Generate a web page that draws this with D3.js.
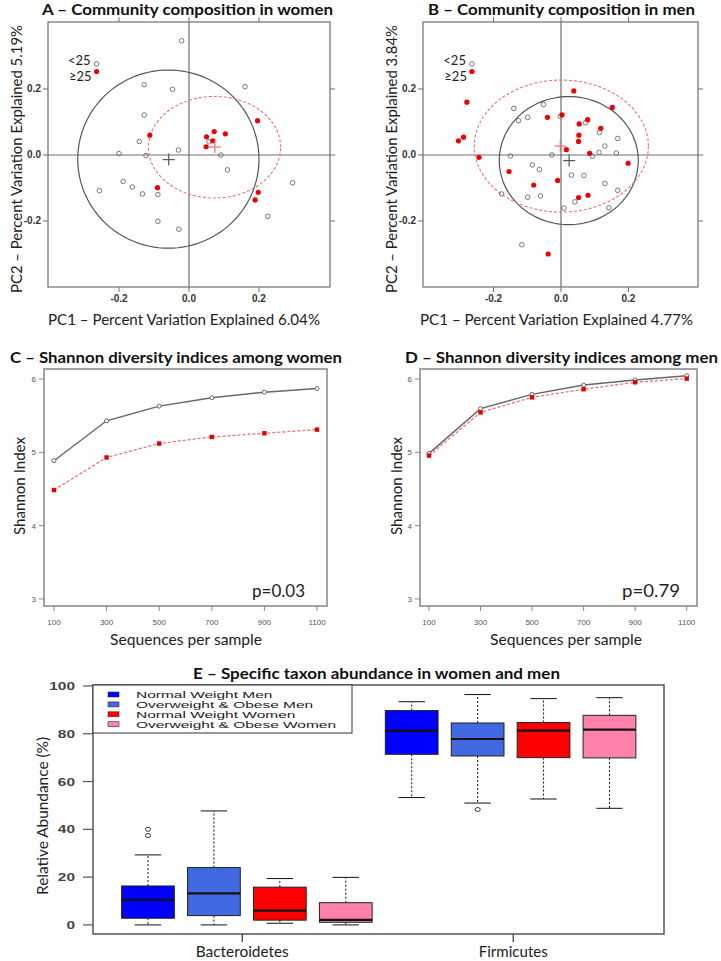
<!DOCTYPE html>
<html><head><meta charset="utf-8">
<script src="https://cdn.jsdelivr.net/npm/d3@7"></script>
<style>body{margin:0;background:#fff}</style>
</head><body>
<svg id="c" width="721" height="961" xmlns="http://www.w3.org/2000/svg"></svg>
<script>
// ---------- DATA ----------
// Panel A: women (PC1, PC2)
const womenNormalPts = [[-0.021,0.346],[-0.128,0.213],[-0.047,0.199],[0.160,0.207],[-0.128,0.121],[-0.142,0.041],[-0.030,0.015],[-0.200,0.004],[-0.123,-0.002],[0.057,0.040],[0.091,0.0],[0.110,-0.045],[0.296,-0.084],[-0.256,-0.108],[-0.188,-0.080],[-0.162,-0.097],[-0.133,-0.118],[-0.089,-0.120],[-0.089,-0.201],[-0.029,-0.225],[0.225,-0.186]];
const womenOverPts = [[-0.112,0.060],[0.050,0.055],[0.072,0.071],[0.104,0.064],[0.068,0.043],[0.049,0.025],[0.196,0.104],[-0.090,-0.099],[0.198,-0.113],[0.189,-0.136]];
const womenCentroids = [[-0.058,-0.014],[0.074,0.024]];          // normal, overweight
const womenEllipses = [[-0.059,-0.0125,0.259,0.270],[0.073,0.0235,0.189,0.154]]; // cx, cy, rx, ry
// Panel B: men
const menNormalPts = [[-0.140,0.141],[-0.052,0.153],[-0.126,0.104],[-0.099,0.114],[-0.002,0.117],[0.073,0.098],[0.114,0.068],[0.168,0.050],[0.130,0.027],[0.113,0.008],[0.164,0.006],[0.093,-0.004],[-0.027,0.0],[-0.150,-0.003],[-0.085,-0.030],[-0.064,-0.044],[0.031,-0.061],[0.068,-0.062],[0.130,-0.086],[0.168,-0.107],[-0.176,-0.118],[-0.099,-0.128],[-0.061,-0.124],[0.041,-0.142],[0.009,-0.161],[0.142,-0.160],[-0.116,-0.272]];
const menOverPts = [[-0.279,0.160],[-0.304,0.043],[-0.289,0.054],[-0.243,-0.007],[-0.154,-0.050],[-0.081,-0.091],[-0.040,0.114],[0.003,0.122],[0.038,0.194],[0.054,0.094],[0.079,0.107],[0.053,0.060],[0.052,0.041],[0.016,0.016],[0.118,0.081],[0.152,0.144],[0.085,0.005],[0.199,-0.025],[-0.010,-0.077],[0.052,-0.129],[0.080,-0.122],[-0.038,-0.300]];
const menCentroids = [[0.024,-0.017],[-0.002,0.027]];
const menEllipses = [[0.023,-0.017,0.206,0.194],[0.001,0.027,0.258,0.200]];
const pcaTicks = [-0.2, 0.0, 0.2];
const legendLabels = ["<25", "\u226525"];
const legendPos = [[-0.264,0.276],[-0.264,0.253]];

// Panels C, D: Shannon
const depths = [100,300,500,700,900,1100];
const womenNormalShannon = [4.886,5.43,5.63,5.745,5.82,5.87];
const womenOverShannon   = [4.486,4.93,5.12,5.21,5.26,5.31];
const menNormalShannon   = [4.986,5.595,5.79,5.918,5.986,6.045];
const menOverShannon     = [4.955,5.545,5.75,5.86,5.955,6.005];
const shannonTicks = [3,4,5,6];

// Panel E: boxplots [lowWhisker, Q1, median, Q3, highWhisker]
const taxa = ["Bacteroidetes","Firmicutes"];
const taxaPos = [2.43, 6.54];
const groups = ["Normal Weight Men","Overweight & Obese Men","Normal Weight Women","Overweight & Obese Women"];
const groupColors = ["#0000ff","#4169e1","#ff0000","#ff82ab"];
const bacteroidetesStats = [[0,2.8,10.5,16.3,29.3],[0,3.9,13.2,24.0,47.7],[0.7,2.0,6.0,15.8,19.4],[0,1.1,2.1,9.3,19.9]];
const firmicutesStats = [[53.3,71.4,81.2,89.7,93.4],[51.0,70.7,77.8,84.5,96.4],[52.7,70.0,81.3,84.7,94.7],[48.8,69.9,81.7,87.7,95.1]];
const outliers = [[1,40.0],[1,37.4],[6,48.3]]; // [box position, value]
const abundTicks = [0,20,40,60,80,100];

// ---------- DRAW ----------
const svg = d3.select("#c");
const calibri = "Lato, 'Open Sans', sans-serif";
const arial = "'Liberation Sans', Arial, sans-serif";

function txt(g, x, y, s, o={}) {
  const t = g.append("text").attr("x", x).attr("y", y).text(s)
    .attr("font-family", o.family || calibri)
    .attr("font-size", o.size || 15)
    .attr("font-weight", o.weight || "normal")
    .attr("fill", o.fill || "#111")
    .attr("text-anchor", o.anchor || "middle");
  if (o.len) t.attr("textLength", o.len).attr("lengthAdjust", "spacingAndGlyphs");
  if (o.rot) t.attr("transform", `rotate(-90,${x},${y})`);
  return t;
}

function pcaPanel(cfg) {
  const g = svg.append("g");
  const x = d3.scaleLinear().domain(cfg.xd).range(cfg.xr);
  const y = d3.scaleLinear().domain(cfg.yd).range([287, 22]);
  const [x0, x1] = cfg.xr, y0 = 22, y1 = 287;
  const gray = "#6e6e6e";
  g.append("rect").attr("x", x0).attr("y", y0).attr("width", x1 - x0).attr("height", y1 - y0)
    .attr("fill", "none").attr("stroke", gray).attr("stroke-width", 1.2);
  g.append("line").attr("x1", x(0)).attr("x2", x(0)).attr("y1", y0).attr("y2", y1).attr("stroke", gray).attr("stroke-width", 1.2);
  g.append("line").attr("x1", x0).attr("x2", x1).attr("y1", y(0)).attr("y2", y(0)).attr("stroke", gray).attr("stroke-width", 1.2);
  pcaTicks.forEach(v => {
    g.append("line").attr("x1", x(v)).attr("x2", x(v)).attr("y1", y1).attr("y2", y1 + 5).attr("stroke", gray);
    g.append("line").attr("x1", x(v)).attr("x2", x(v)).attr("y1", y0).attr("y2", y0 - 5).attr("stroke", gray);
    g.append("line").attr("y1", y(v)).attr("y2", y(v)).attr("x1", x0).attr("x2", x0 - 5).attr("stroke", gray);
    g.append("line").attr("y1", y(v)).attr("y2", y(v)).attr("x1", x1).attr("x2", x1 + 5).attr("stroke", gray);
    txt(g, x(v), 302, d3.format(".1f")(v).replace("\u2212", "-"), {family: arial, size: 10, weight: "bold", fill: "#333"});
    txt(g, x0 - 7, y(v) + 3.5, d3.format(".1f")(v).replace("\u2212", "-"), {family: arial, size: 10, weight: "bold", fill: "#333", anchor: "end"});
  });
  const ell = (e) => d3.range(0, 361, 3).map(a => [e[0] + e[2] * Math.cos(a * Math.PI / 180), e[1] + e[3] * Math.sin(a * Math.PI / 180)]);
  const line = d3.line().x(d => x(d[0])).y(d => y(d[1]));
  g.append("path").attr("d", line(ell(cfg.ellipses[0]))).attr("fill", "none").attr("stroke", "#555").attr("stroke-width", 1.2);
  g.append("path").attr("d", line(ell(cfg.ellipses[1]))).attr("fill", "none").attr("stroke", "#f07070").attr("stroke-width", 1.1).attr("stroke-dasharray", "3,2");
  g.selectAll(null).data(cfg.normal).enter().append("circle")
    .attr("cx", d => x(d[0])).attr("cy", d => y(d[1])).attr("r", 2.3)
    .attr("fill", "none").attr("stroke", "#777").attr("stroke-width", 1);
  g.selectAll(null).data(cfg.over).enter().append("circle")
    .attr("cx", d => x(d[0])).attr("cy", d => y(d[1])).attr("r", 2.6)
    .attr("fill", "#ee0000");
  cfg.centroids.forEach((c, i) => {
    const col = i === 0 ? "#555" : "#f07070";
    g.append("line").attr("x1", x(c[0]) - 6).attr("x2", x(c[0]) + 6).attr("y1", y(c[1])).attr("y2", y(c[1])).attr("stroke", col).attr("stroke-width", 1.2);
    g.append("line").attr("x1", x(c[0])).attr("x2", x(c[0])).attr("y1", y(c[1]) - 6).attr("y2", y(c[1]) + 6).attr("stroke", col).attr("stroke-width", 1.2);
  });
  g.append("circle").attr("cx", x(legendPos[0][0])).attr("cy", y(legendPos[0][1])).attr("r", 2.3).attr("fill", "none").attr("stroke", "#777");
  g.append("circle").attr("cx", x(legendPos[1][0])).attr("cy", y(legendPos[1][1])).attr("r", 2.6).attr("fill", "#ee0000");
  txt(g, x(legendPos[0][0]) - 6, y(legendPos[0][1]) + 1, legendLabels[0], {size: 13, anchor: "end", fill: "#222"});
  txt(g, x(legendPos[1][0]) - 5, y(legendPos[1][1]) + 9, legendLabels[1], {size: 13, anchor: "end", fill: "#222"});
  txt(g, cfg.titleX, 15, cfg.title, {size: 16, weight: "bold", len: cfg.titleLen});
  txt(g, cfg.ylabX, 159, cfg.ylab, {size: 15, rot: true, len: 268, fill: "#222"});
  txt(g, cfg.xlabX, 325, cfg.xlab, {size: 15, len: cfg.xlabLen, fill: "#222"});
}

pcaPanel({xd: [-0.403, 0.403], xr: [48, 330], yd: [-0.4, 0.403],
  ellipses: womenEllipses, normal: womenNormalPts, over: womenOverPts, centroids: womenCentroids,
  title: "A \u2013 Community composition in women", titleX: 187.5, titleLen: 291,
  ylab: "PC2 \u2013 Percent Variation Explained 5.19%", ylabX: 22,
  xlab: "PC1 \u2013 Percent Variation Explained 6.04%", xlabX: 184, xlabLen: 272});
pcaPanel({xd: [-0.409, 0.406], xr: [423, 698], yd: [-0.4, 0.403],
  ellipses: menEllipses, normal: menNormalPts, over: menOverPts, centroids: menCentroids,
  title: "B \u2013 Community composition in men", titleX: 561.5, titleLen: 267,
  ylab: "PC2 \u2013 Percent Variation Explained 3.84%", ylabX: 397,
  xlab: "PC1 \u2013 Percent Variation Explained 4.77%", xlabX: 556.5, xlabLen: 273});

function shannonPanel(cfg) {
  const g = svg.append("g");
  const x = d3.scaleLinear().domain([100, 1100]).range(cfg.xr);
  const y = d3.scaleLinear().domain([3, 6]).range([599, 379]);
  const [b0, b1] = cfg.box, t0 = 369, t1 = 606;
  g.append("rect").attr("x", b0).attr("y", t0).attr("width", b1 - b0).attr("height", t1 - t0)
    .attr("fill", "none").attr("stroke", "#999").attr("stroke-width", 1.8);
  shannonTicks.forEach(v => {
    g.append("line").attr("x1", b0).attr("x2", b0 - 5).attr("y1", y(v)).attr("y2", y(v)).attr("stroke", "#888");
    txt(g, b0 - 8, y(v) + 3, v, {family: arial, size: 8, fill: "#555", anchor: "end"});
  });
  depths.forEach(v => {
    g.append("line").attr("x1", x(v)).attr("x2", x(v)).attr("y1", t1).attr("y2", t1 + 5).attr("stroke", "#888");
    txt(g, x(v), 625, v, {family: arial, size: 8, fill: "#555"});
  });
  const line = d3.line().x((d, i) => x(depths[i])).y(d => y(d));
  g.append("path").attr("d", line(cfg.normal)).attr("fill", "none").attr("stroke", "#666").attr("stroke-width", 1.4);
  g.append("path").attr("d", line(cfg.over)).attr("fill", "none").attr("stroke", "#f27070").attr("stroke-width", 1.3).attr("stroke-dasharray", "3,2");
  g.selectAll(null).data(cfg.normal).enter().append("circle")
    .attr("cx", (d, i) => x(depths[i])).attr("cy", d => y(d)).attr("r", 2)
    .attr("fill", "#fff").attr("stroke", "#666").attr("stroke-width", 1);
  g.selectAll(null).data(cfg.over).enter().append("rect")
    .attr("x", (d, i) => x(depths[i]) - 2.2).attr("y", d => y(d) - 2.2).attr("width", 4.4).attr("height", 4.4)
    .attr("fill", "#e00000");
  txt(g, cfg.titleX, 363, cfg.title, {size: 16, weight: "bold", len: cfg.titleLen});
  txt(g, cfg.ylabX, 486, "Shannon Index", {size: 15, rot: true, len: 98, fill: "#222"});
  txt(g, cfg.pX, 597, cfg.p, {size: 18, len: cfg.pLen, fill: "#222"});
  txt(g, cfg.xlabX, 645, "Sequences per sample", {size: 15, len: 152, fill: "#222"});
}

shannonPanel({xr: [54, 317], box: [44, 327], normal: womenNormalShannon, over: womenOverShannon,
  title: "C \u2013 Shannon diversity indices among women", titleX: 176, titleLen: 332, ylabX: 25,
  p: "p=0.03", pX: 278.5, pLen: 53, xlabX: 186});
shannonPanel({xr: [429, 686.7], box: [420, 697], normal: menNormalShannon, over: menOverShannon,
  title: "D \u2013 Shannon diversity indices among men", titleX: 561.5, titleLen: 313, ylabX: 402,
  p: "p=0.79", pX: 651, pLen: 58, xlabX: 566});

// Panel E
(function () {
  const g = svg.append("g");
  const x = d3.scaleLinear().domain([0.166, 8.827]).range([93, 664]);
  const y = d3.scaleLinear().domain([-3.8, 100.4]).range([934, 685]);
  g.append("rect").attr("x", 93).attr("y", 685).attr("width", 571).attr("height", 249)
    .attr("fill", "none").attr("stroke", "#555").attr("stroke-width", 1.5);
  abundTicks.forEach(v => {
    g.append("line").attr("x1", 93).attr("x2", 83).attr("y1", y(v)).attr("y2", y(v)).attr("stroke", "#555").attr("stroke-width", 1.2);
    g.append("text").text(v).attr("transform", `translate(75,${y(v) + 4}) scale(1.4,1)`)
      .attr("text-anchor", "end").attr("font-family", arial).attr("font-size", 11).attr("font-weight", "bold").attr("fill", "#444");
  });
  taxa.forEach((t, i) => {
    g.append("line").attr("x1", x(taxaPos[i])).attr("x2", x(taxaPos[i])).attr("y1", 934).attr("y2", 942).attr("stroke", "#333").attr("stroke-width", 1.2);
    txt(g, x(taxaPos[i]), 957, t, {size: 15, len: i === 0 ? 93 : 69, fill: "#222"});
  });
  const all = bacteroidetesStats.concat(firmicutesStats);
  const hw = 0.4, cw = 0.2;
  all.forEach((s, i) => {
    const p = i + 1, col = groupColors[i % 4];
    g.append("line").attr("x1", x(p)).attr("x2", x(p)).attr("y1", y(s[3])).attr("y2", y(s[4])).attr("stroke", "#111").attr("stroke-dasharray", "2,2");
    g.append("line").attr("x1", x(p)).attr("x2", x(p)).attr("y1", y(s[1])).attr("y2", y(s[0])).attr("stroke", "#111").attr("stroke-dasharray", "2,2");
    g.append("line").attr("x1", x(p - cw)).attr("x2", x(p + cw)).attr("y1", y(s[4])).attr("y2", y(s[4])).attr("stroke", "#111");
    g.append("line").attr("x1", x(p - cw)).attr("x2", x(p + cw)).attr("y1", y(s[0])).attr("y2", y(s[0])).attr("stroke", "#111");
    g.append("rect").attr("x", x(p - hw)).attr("y", y(s[3])).attr("width", x(p + hw) - x(p - hw)).attr("height", y(s[1]) - y(s[3]))
      .attr("fill", col).attr("stroke", "#222").attr("stroke-width", 1);
    g.append("line").attr("x1", x(p - hw)).attr("x2", x(p + hw)).attr("y1", y(s[2])).attr("y2", y(s[2])).attr("stroke", "#111").attr("stroke-width", 2.2);
  });
  outliers.forEach(o => {
    g.append("ellipse").attr("cx", x(o[0])).attr("cy", y(o[1])).attr("rx", 2.6).attr("ry", 2).attr("fill", "none").attr("stroke", "#222").attr("stroke-width", 0.9);
  });
  // legend
  g.append("rect").attr("x", 93).attr("y", 685).attr("width", 259).attr("height", 48).attr("fill", "#fff").attr("stroke", "#333").attr("stroke-width", 1);
  groups.forEach((n, i) => {
    const cy = 694.5 + i * 9.9;
    g.append("rect").attr("x", 108).attr("y", cy - 2.5).attr("width", 11).attr("height", 5).attr("fill", groupColors[i]).attr("stroke", "#333").attr("stroke-width", 0.6);
    g.append("text").text(n).attr("transform", `translate(136,${cy + 3.5}) scale(1.78,1)`)
      .attr("font-family", arial).attr("font-size", 8.7).attr("fill", "#222");
  });
  txt(g, 376.5, 679, "E \u2013 Specific taxon abundance in women and men", {size: 16, weight: "bold", len: 367});
  txt(g, 48, 816, "Relative Abundance (%)", {size: 15, rot: true, len: 158, fill: "#222"});
})();
</script>
</body></html>
